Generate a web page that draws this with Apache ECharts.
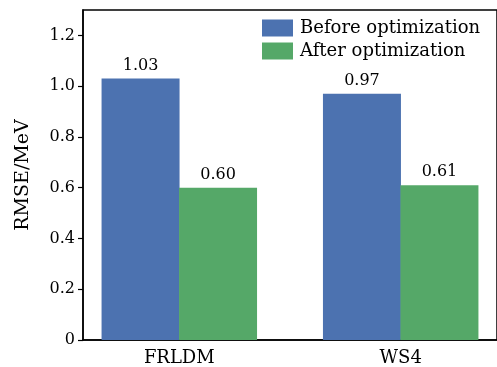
<!DOCTYPE html>
<html>
<head>
<meta charset="utf-8">
<script src="https://cdn.jsdelivr.net/npm/echarts@6/dist/echarts.min.js"></script>
<style>
  html, body { margin: 0; padding: 0; background: #fff; }
  #main { width: 497px; height: 367px; }
</style>
</head>
<body>
<div id="main"></div>
<script>
const categories = ['FRLDM', 'WS4'];
const beforeOpt = [1.03, 0.97];
const afterOpt = [0.60, 0.61];
const yTicks = [0, 0.2, 0.4, 0.6, 0.8, 1.0, 1.2];

const font = 'DejaVu Serif';
const halfWidth = 0.175; // each bar is 0.35 of one category step

const myChart = echarts.init(document.getElementById('main'));

myChart.setOption({
  animation: false,
  grid: {
    left: 83, right: -2, top: 10, bottom: 25,
    show: true, borderColor: '#000', borderWidth: 1.5, backgroundColor: 'transparent'
  },
  legend: {
    orient: 'vertical',
    left: 262, top: 19,
    padding: 0,
    icon: 'rect',
    itemWidth: 31, itemHeight: 17, itemGap: 5,
    textStyle: { fontFamily: font, fontSize: 18, color: '#000', padding: [0, 0, 0, 2] },
    data: ['Before optimization', 'After optimization']
  },
  xAxis: {
    type: 'value',
    min: -0.435, max: 1.435,
    axisLine: { show: true, onZero: false, lineStyle: { color: '#000', width: 1.5 } },
    axisTick: { show: false },
    splitLine: { show: false },
    axisLabel: {
      customValues: [0, 1],
      formatter: v => categories[Math.round(v)] || '',
      fontFamily: font, fontSize: 18, color: '#000', margin: 9
    }
  },
  yAxis: {
    type: 'value',
    min: 0, max: 1.3,
    name: 'RMSE/MeV',
    nameLocation: 'middle',
    nameRotate: 90,
    nameGap: 50,
    nameTextStyle: { fontFamily: font, fontSize: 19, color: '#000' },
    axisLine: { show: true, onZero: false, lineStyle: { color: '#000', width: 1.5 } },
    axisTick: { show: true, customValues: yTicks, length: 5, lineStyle: { color: '#000', width: 1.2 } },
    splitLine: { show: false },
    axisLabel: {
      customValues: yTicks,
      formatter: v => v === 0 ? '0' : v.toFixed(1),
      fontFamily: font, fontSize: 16, color: '#000', margin: 8
    }
  },
  series: [
    {
      name: 'Before optimization',
      type: 'bar',
      barWidth: 78,
      barGap: '-100%',
      itemStyle: { color: '#4c72b0' },
      label: { show: true, position: 'top', distance: 5, formatter: p => p.value[1].toFixed(2),
               fontFamily: font, fontSize: 16, color: '#000' },
      data: categories.map((c, i) => [i - halfWidth, beforeOpt[i]])
    },
    {
      name: 'After optimization',
      type: 'bar',
      barWidth: 78,
      barGap: '-100%',
      itemStyle: { color: '#55a868' },
      label: { show: true, position: 'top', distance: 5, formatter: p => p.value[1].toFixed(2),
               fontFamily: font, fontSize: 16, color: '#000' },
      data: categories.map((c, i) => [i + halfWidth, afterOpt[i]])
    }
  ]
});

window.addEventListener('resize', () => myChart.resize());
</script>
</body>
</html>
